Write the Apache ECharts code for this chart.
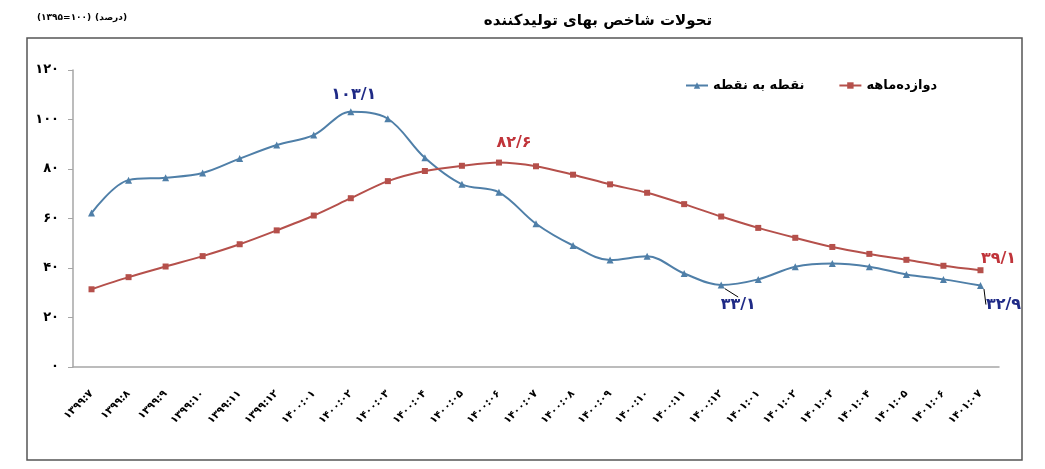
<!DOCTYPE html>
<html><head><meta charset="utf-8">
<script src="https://cdn.jsdelivr.net/npm/echarts@6/dist/echarts.min.js"></script>
<style>html,body{margin:0;padding:0;background:#fff}#c{width:1045px;height:469px}</style>
</head><body><div id="c"></div>
<script>
const categories = ['۱۳۹۹:۷','۱۳۹۹:۸','۱۳۹۹:۹','۱۳۹۹:۱۰','۱۳۹۹:۱۱','۱۳۹۹:۱۲',
  '۱۴۰۰:۰۱','۱۴۰۰:۰۲','۱۴۰۰:۰۳','۱۴۰۰:۰۴','۱۴۰۰:۰۵','۱۴۰۰:۰۶','۱۴۰۰:۰۷','۱۴۰۰:۰۸','۱۴۰۰:۰۹','۱۴۰۰:۱۰','۱۴۰۰:۱۱','۱۴۰۰:۱۲',
  '۱۴۰۱:۰۱','۱۴۰۱:۰۲','۱۴۰۱:۰۳','۱۴۰۱:۰۴','۱۴۰۱:۰۵','۱۴۰۱:۰۶','۱۴۰۱:۰۷'];
const pointToPoint = [62.2,75.5,76.5,78.4,84.2,89.7,93.7,103.1,100.3,84.5,73.8,70.6,57.9,49.1,43.2,44.7,37.8,33.1,35.4,40.5,41.8,40.5,37.4,35.4,32.9];
const twelveMonth = [31.4,36.3,40.6,44.8,49.6,55.2,61.2,68.2,75.1,79.2,81.3,82.6,81.1,77.7,73.8,70.4,65.8,60.8,56.2,52.2,48.5,45.7,43.3,40.9,39.1];
const seriesNames = ['نقطه به نقطه','دوازده\u200cماهه'];
const yMin = 0, yMax = 120, yStep = 20;
const blueLabelIdx = [7, 17, 24];
const redLabelIdx = [11, 24];

const FA = '۰۱۲۳۴۵۶۷۸۹';
function toFa(s){ return String(s).replace(/[0-9]/g, d => FA[+d]); }
function valLabel(v){ return toFa(String(v).replace('.', '/')); }

const FONT = 'DejaVu Sans';
const blueLayout = {7:{dx:3,dy:-17}, 17:{dx:17,dy:20}, 24:{dx:23,dy:19}};
const redLayout = {11:{dx:15,dy:-20}, 24:{dx:18,dy:-11}};

function buildData(vals, idxs, color, withLine){
  return vals.map((v,i) => {
    if (idxs.indexOf(i) < 0) return v;
    return {value:v, label:{show:true, position:'inside', formatter:valLabel(v), color:color,
      fontFamily:FONT, fontWeight:'bold', fontSize:16},
      labelLine:{show: !!(withLine && withLine[i]), lineStyle:{color:'#000', width:1}}};
  });
}

const chart = echarts.init(document.getElementById('c'), null, {renderer:'canvas'});
const option = {
  animation:false,
  backgroundColor:'#fff',
  textStyle:{fontFamily:FONT},
  graphic:[
    {type:'rect', shape:{x:27, y:38, width:995, height:422}, style:{fill:'none', stroke:'#555', lineWidth:1.5}, silent:true},
    {type:'text', x:598, y:21, style:{text:'تحولات شاخص بهای تولیدکننده', textAlign:'center', textVerticalAlign:'middle', font:'bold 15px "DejaVu Sans"', fill:'#000'}},
    {type:'text', x:37, y:18, style:{text:'(۱۳۹۵=۱۰۰)', textAlign:'left', textVerticalAlign:'middle', font:'bold 9px "DejaVu Sans"', fill:'#000'}},
    {type:'text', x:127, y:18, style:{text:'(درصد)', textAlign:'right', textVerticalAlign:'middle', font:'bold 9px "DejaVu Sans"', fill:'#000'}}
  ],
  legend:{
    left:680, top:74, itemGap:34, itemWidth:22, itemHeight:8,
    data:seriesNames,
    textStyle:{fontFamily:FONT, fontWeight:'bold', fontSize:13, color:'#000'}
  },
  grid:{left:73, right:46, top:70, bottom:102},
  xAxis:{
    type:'category', data:categories, boundaryGap:true,
    axisLine:{lineStyle:{color:'#a6a6a6', width:1.5}},
    axisTick:{show:false},
    axisLabel:{rotate:45, interval:0, margin:25, fontFamily:FONT, fontWeight:'bold', fontSize:10.5, color:'#000'}
  },
  yAxis:{
    type:'value', min:yMin, max:yMax, interval:yStep,
    splitLine:{show:false},
    axisLine:{show:true, lineStyle:{color:'#a6a6a6', width:1.5}},
    axisTick:{show:true, length:5, lineStyle:{color:'#a6a6a6'}},
    axisLabel:{margin:14, formatter:v => toFa(v), fontFamily:FONT, fontWeight:'bold', fontSize:13, color:'#000'}
  },
  series:[
    {name:seriesNames[0], type:'line', smooth:0.35, symbol:'triangle', symbolSize:7,
     lineStyle:{color:'#4f7fa8', width:2}, itemStyle:{color:'#4f7fa8'},
     data:buildData(pointToPoint, blueLabelIdx, '#1f2a86', {17:true, 24:true}),
     labelLayout: p => blueLayout[p.dataIndex] || {}},
    {name:seriesNames[1], type:'line', smooth:0.3, symbol:'rect', symbolSize:6,
     lineStyle:{color:'#b5504b', width:2}, itemStyle:{color:'#b5504b'},
     data:buildData(twelveMonth, redLabelIdx, '#c0343a', null),
     labelLayout: p => redLayout[p.dataIndex] || {}}
  ]
};
chart.setOption(option);
</script></body></html>
